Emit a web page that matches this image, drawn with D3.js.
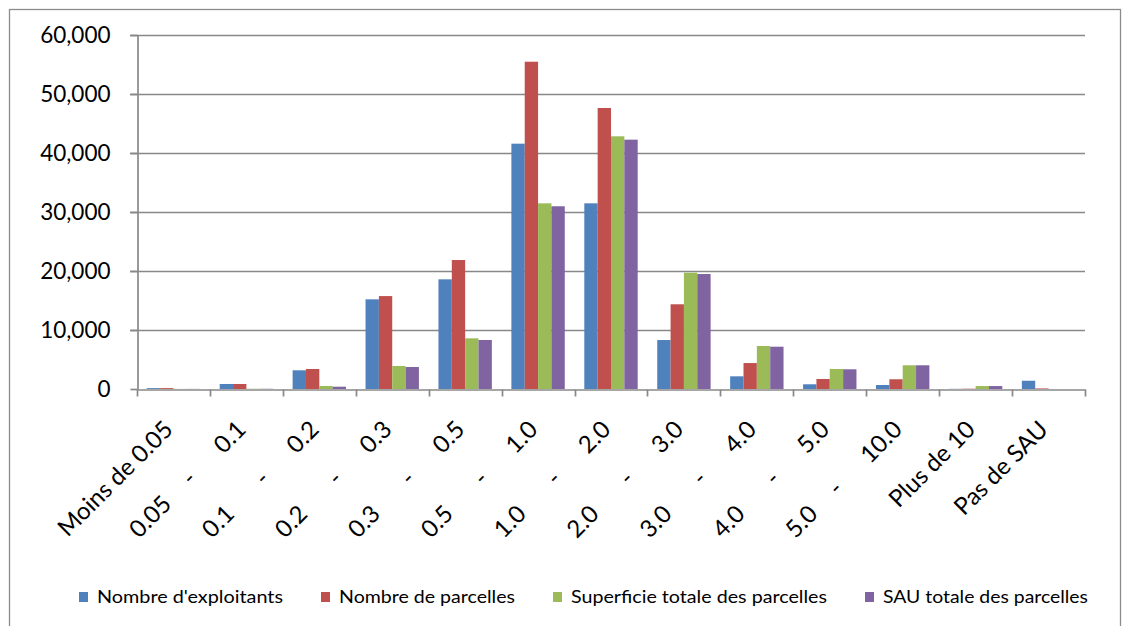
<!DOCTYPE html>
<html>
<head>
<meta charset="utf-8">
<script src="https://cdn.jsdelivr.net/npm/d3@7"></script>
<style>
  html, body { margin: 0; padding: 0; background: #fff; }
  svg { display: block; }
  text { white-space: pre; font-family: Lato, "Open Sans", sans-serif; fill: #000; }
</style>
</head>
<body>
<svg id="chart" width="1130" height="626"></svg>
<script>
const categories = ["Moins de 0.05", "0.05 - 0.1", "0.1 - 0.2", "0.2 - 0.3", "0.3 - 0.5",
  "0.5 - 1.0", "1.0 - 2.0", "2.0 - 3.0", "3.0 - 4.0", "4.0 - 5.0",
  "5.0 - 10.0", "Plus de 10", "Pas de SAU"];
const seriesNames = ["Nombre d'exploitants", "Nombre de parcelles", "Superficie totale des parcelles", "SAU totale des parcelles"];
const exploitants = [150, 850, 3170, 15200, 18590, 41580, 31470, 8300, 2150, 800, 680, 30, 1400];
const parcelles   = [150, 850, 3390, 15750, 21860, 55470, 47630, 14360, 4400, 1700, 1650, 50, 100];
const superficie  = [20, 40, 510, 3900, 8590, 31470, 42830, 19710, 7290, 3390, 4020, 500, 0];
const sau         = [20, 40, 390, 3730, 8310, 30970, 42260, 19490, 7170, 3340, 4020, 500, 0];
const yTicks = [0, 10000, 20000, 30000, 40000, 50000, 60000];
const colors = ["#4F81BD", "#C0504D", "#9BBB59", "#8064A2"];

const seriesValues = [exploitants, parcelles, superficie, sau];
const svg = d3.select("#chart");

// outer frame
svg.append("rect").attr("x", 9.5).attr("y", 9.5).attr("width", 1111).attr("height", 700)
  .attr("fill", "none").attr("stroke", "#8c8c8c").attr("stroke-width", 1.3);

const plotL = 137, plotR = 1085, plotT = 35, plotB = 389;
const x = d3.scaleBand().domain(categories).range([plotL, plotR]).padding(0);
const bw = x.bandwidth();
const gap = bw * 0.268;
const x1 = d3.scaleBand().domain(seriesNames).range([gap / 2, bw - gap / 2]).padding(0);
const y = d3.scaleLinear().domain([0, 60000]).range([plotB, plotT]);

// gridlines
svg.append("g").selectAll("line").data(yTicks.filter(d => d > 0)).join("line")
  .attr("x1", plotL - 7).attr("x2", plotR)
  .attr("y1", d => Math.round(y(d)) + 0.5).attr("y2", d => Math.round(y(d)) + 0.5)
  .attr("stroke", "#888").attr("stroke-width", 1.7);

// y axis
const yAxis = d3.axisLeft(y).tickValues(yTicks).tickSize(7).tickPadding(20)
  .tickFormat(d3.format(",")).tickSizeOuter(0);
const gy = svg.append("g").attr("transform", `translate(${plotL + 0.5},0)`).call(yAxis);
gy.selectAll("path, line").attr("stroke", "#888").attr("stroke-width", 1.7);
gy.selectAll("text").attr("font-size", 22.5).attr("font-family", "Lato, sans-serif").attr("fill", "#000");

// bars
const groups = svg.append("g").selectAll("g").data(categories).join("g")
  .attr("transform", d => `translate(${x(d)},0)`);
groups.selectAll("rect").data((c, i) => seriesNames.map((s, j) => ({ s, j, v: seriesValues[j][i] })))
  .join("rect")
  .attr("x", d => x1(d.s)).attr("width", x1.bandwidth())
  .attr("y", d => y(d.v)).attr("height", d => y(0) - y(d.v))
  .attr("fill", d => colors[d.j]);

// x axis
const xAxis = d3.axisBottom(x).tickSize(7).tickSizeOuter(0).tickFormat("");
const gx = svg.append("g").attr("transform", `translate(0,${plotB + 0.5})`).call(xAxis);
gx.selectAll(".tick").remove();
gx.select("path").attr("stroke", "#888").attr("stroke-width", 1.7);
const tickPos = categories.map(c => x(c)).concat([plotR]);
gx.selectAll("line.t").data(tickPos).join("line").attr("class", "t")
  .attr("x1", d => Math.round(d) + 0.5).attr("x2", d => Math.round(d) + 0.5)
  .attr("y1", 0).attr("y2", 7).attr("stroke", "#888").attr("stroke-width", 1.7);

const labels = svg.append("g").selectAll("text").data(categories).join("text")
  .attr("transform", d => `translate(${x(d) + bw / 2 + 1},${plotB + 42}) rotate(-45)`)
  .attr("font-size", 24);
labels.each(function (d) {
  const t = d3.select(this);
  const parts = d.split(" - ");
  if (parts.length === 1) {
    t.attr("text-anchor", "end").text(d);
  } else {
    t.append("tspan").attr("x", -153).attr("text-anchor", "start").text(parts[0]);
    const h = t.append("tspan").attr("text-anchor", "middle").text("-");
    const r = t.append("tspan").attr("x", 0).attr("text-anchor", "end").text(parts[1]);
    const w = r.node().getComputedTextLength();
    h.attr("x", -(w + 41));
  }
});

// legend
const legendX = [79, 321, 553, 865];
const legendW = [186, 176, 256, 205];
const lg = svg.append("g").selectAll("g").data(seriesNames).join("g");
lg.append("rect").attr("x", (d, i) => legendX[i]).attr("y", 592).attr("width", 9).attr("height", 10)
  .attr("fill", (d, i) => colors[i]);
lg.append("text").attr("x", (d, i) => legendX[i] + 18).attr("y", 603)
  .attr("font-size", 17.5)
  .attr("textLength", (d, i) => legendW[i]).attr("lengthAdjust", "spacingAndGlyphs")
  .text(d => d);
</script>
</body>
</html>
